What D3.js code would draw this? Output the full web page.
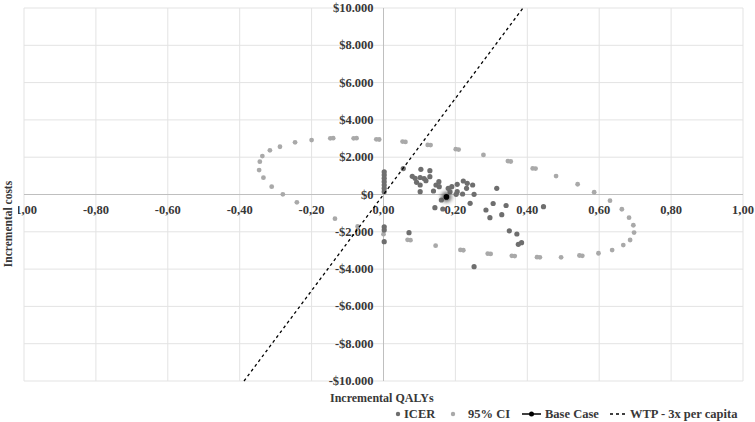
<!DOCTYPE html>
<html>
<head>
<meta charset="utf-8">
<script src="https://cdn.jsdelivr.net/npm/d3@7"></script>
<style>
  body { margin: 0; background: #fff; }
  text { font-family: "Liberation Serif", "Times New Roman", serif; font-weight: bold; fill: #383838; }
</style>
</head>
<body>
<div id="container"></div>
<script>
/* data: [incremental QALYs, incremental costs] */
var icerPoints = [
  [0.002, 1220], [0.002, 1050], [0.002, 870], [0.002, 690], [0.002, 510], [0.002, 330], [0.002, 150],
  [0.002, -1730], [0.002, -1900], [0.002, -2530],
  [0.055, 1390], [0.104, 1350], [0.129, 1276], [0.080, 976], [0.088, 869], [0.102, 912],
  [0.113, 858], [0.129, 954], [0.092, 654], [0.102, 509], [0.118, 740], [0.154, 686],
  [0.146, 509], [0.155, 418], [0.102, 150], [0.139, 188], [0.180, 332], [0.190, 418],
  [0.205, 547], [0.222, 724], [0.233, 600], [0.248, 509], [0.231, 332], [0.185, 150],
  [0.205, 150], [0.220, 27], [0.202, 11], [0.252, 11], [0.315, 332], [0.161, -295],
  [0.241, -472], [0.305, -483], [0.341, -590], [0.143, -708], [0.165, -777], [0.285, -831],
  [0.296, -1244], [0.329, -1083], [0.350, -1946], [0.371, -2118], [0.375, -2670],
  [0.384, -2584], [0.252, -3871], [0.071, -2048], [0.445, -654]
]

var ciPoints = [
  [-0.346, 1310], [-0.344, 1760], [-0.337, 2060], [-0.316, 2370], [-0.288, 2560],
  [-0.246, 2800], [-0.200, 2920], [-0.148, 3010], [-0.140, 3020], [-0.083, 3010],
  [-0.075, 3020], [-0.020, 2960], [-0.012, 2950], [0.053, 2840], [0.061, 2820],
  [0.123, 2660], [0.131, 2650], [0.201, 2430], [0.209, 2410], [0.278, 2120],
  [0.346, 1790], [0.354, 1770], [0.415, 1400], [0.423, 1390], [0.480, 990],
  [0.540, 550], [0.586, 120], [0.630, -330], [0.663, -790], [0.683, -1240],
  [0.695, -1650], [0.697, -2040], [0.686, -2440], [0.667, -2710], [0.636, -2980],
  [0.598, -3150], [0.545, -3270], [0.553, -3290], [0.494, -3370], [0.427, -3360],
  [0.435, -3370], [0.357, -3290], [0.365, -3300], [0.290, -3170], [0.298, -3180],
  [0.214, -2970], [0.222, -2990], [0.145, -2745], [0.067, -2430], [0.075, -2450],
  [0.000, -2130], [-0.072, -1716], [-0.135, -1298], [-0.241, -418], [-0.280, 11],
  [-0.311, 418], [-0.334, 900]
]

var baseCase = [0.175, -130]
var wtpLine = [[-0.388, -10000], [0.388, 10000]]

var xTicks = [-1, -0.8, -0.6, -0.4, -0.2, 0, 0.2, 0.4, 0.6, 0.8, 1]
var yTicks = [-10000, -8000, -6000, -4000, -2000, 0, 2000, 4000, 6000, 8000, 10000]
var legendLabels = ["ICER", "95% CI", "Base Case", "WTP - 3x per capita"]

/* setup the dimensions */
var width = 755, height = 422

var x = d3.scaleLinear().domain([-1, 1]).range([24, 743])
var y = d3.scaleLinear().domain([-10000, 10000]).range([381, 8])

var svg = d3.select("#container")
            .append("svg")
            .attr("width", width)
            .attr("height", height)

var defs = svg.append("defs")
defs.append("filter")
    .attr("id", "glow")
    .attr("x", "-100%").attr("y", "-100%")
    .attr("width", "300%").attr("height", "300%")
  .append("feGaussianBlur")
    .attr("stdDeviation", 2.2)

/* gridlines */
svg.append("g")
   .selectAll("line")
   .data(xTicks.filter(function(d) { return d !== 0 }))
   .enter().append("line")
     .attr("x1", function(d) { return x(d) })
     .attr("x2", function(d) { return x(d) })
     .attr("y1", y(10000))
     .attr("y2", y(-10000))
     .attr("stroke", "#e3e3e3")

svg.append("g")
   .selectAll("line")
   .data(yTicks.filter(function(d) { return d !== 0 }))
   .enter().append("line")
     .attr("x1", x(-1))
     .attr("x2", x(1))
     .attr("y1", function(d) { return y(d) })
     .attr("y2", function(d) { return y(d) })
     .attr("stroke", "#e3e3e3")

/* axis lines through the origin */
svg.append("line")
   .attr("x1", x(-1)).attr("x2", x(1))
   .attr("y1", y(0)).attr("y2", y(0))
   .attr("stroke", "#bfbfbf")
svg.append("line")
   .attr("x1", x(0)).attr("x2", x(0))
   .attr("y1", y(10000)).attr("y2", y(-10000))
   .attr("stroke", "#bfbfbf")

/* tick labels */
var fmtX = function(d) { return d3.format(".2f")(d).replace(".", ",").replace("−", "-") }
var fmtY = function(d) {
  var s = "$" + d3.format(",")(Math.abs(d)).replace(",", ".")
  return d < 0 ? "-" + s : s
}

svg.append("g")
   .selectAll("text")
   .data(xTicks)
   .enter().append("text")
     .attr("x", function(d) { return x(d) })
     .attr("y", y(0) + 19)
     .attr("text-anchor", "middle")
     .attr("font-size", 12.5)
     .text(fmtX)

svg.append("g")
   .selectAll("text")
   .data(yTicks)
   .enter().append("text")
     .attr("x", x(0) - 10)
     .attr("y", function(d) { return y(d) + 4 })
     .attr("text-anchor", "end")
     .attr("font-size", 12.5)
     .text(fmtY)

/* 95% CI and ICER points */
svg.append("g")
   .selectAll("circle")
   .data(ciPoints)
   .enter().append("circle")
     .attr("cx", function(d) { return x(d[0]) })
     .attr("cy", function(d) { return y(d[1]) })
     .attr("r", 2.4)
     .attr("fill", "#a9a9a9")

svg.append("g")
   .selectAll("circle")
   .data(icerPoints)
   .enter().append("circle")
     .attr("cx", function(d) { return x(d[0]) })
     .attr("cy", function(d) { return y(d[1]) })
     .attr("r", 2.6)
     .attr("fill", "#6e6e6e")

/* WTP line */
svg.append("path")
   .datum(wtpLine)
   .attr("d", d3.line().x(function(d) { return x(d[0]) }).y(function(d) { return y(d[1]) }))
   .attr("fill", "none")
   .attr("stroke", "#000")
   .attr("stroke-width", 1.3)
   .attr("stroke-dasharray", "3,3")

/* base case with its soft shadow */
svg.append("circle")
   .attr("cx", x(baseCase[0]))
   .attr("cy", y(baseCase[1]))
   .attr("r", 5)
   .attr("fill", "#555")
   .attr("filter", "url(#glow)")
svg.append("circle")
   .attr("cx", x(baseCase[0]))
   .attr("cy", y(baseCase[1]))
   .attr("r", 2.8)
   .attr("fill", "#000")

/* axis titles (white box behind the y title hides the minus of -1,00) */
svg.append("rect")
   .attr("x", 0).attr("y", 150)
   .attr("width", 18).attr("height", 130)
   .attr("fill", "#fff")
svg.append("text")
   .attr("transform", "translate(12,224) rotate(-90)")
   .attr("text-anchor", "middle")
   .attr("font-size", 11.5)
   .text("Incremental costs")

svg.append("text")
   .attr("x", 330)
   .attr("y", 402)
   .attr("font-size", 12)
   .text("Incremental QALYs")

/* legend */
var ly = 414
var legendX = [404, 468, 545, 630]
var legend = svg.append("g")

legend.append("circle").attr("cx", 398).attr("cy", ly).attr("r", 2.2).attr("fill", "#6e6e6e")
legend.append("circle").attr("cx", 453).attr("cy", ly).attr("r", 2.2).attr("fill", "#a9a9a9")
legend.append("line").attr("x1", 522).attr("x2", 541).attr("y1", ly).attr("y2", ly)
      .attr("stroke", "#000").attr("stroke-width", 1.5)
legend.append("circle").attr("cx", 531.5).attr("cy", ly).attr("r", 2.5).attr("fill", "#000")
legend.append("line").attr("x1", 610).attr("x2", 628).attr("y1", ly).attr("y2", ly)
      .attr("stroke", "#000").attr("stroke-width", 1.3).attr("stroke-dasharray", "3,3")

legend.selectAll("text")
      .data(legendLabels)
      .enter().append("text")
        .attr("x", function(d, i) { return legendX[i] })
        .attr("y", ly + 4)
        .attr("font-size", 12.5)
        .text(function(d) { return d })
</script>
</body>
</html>
